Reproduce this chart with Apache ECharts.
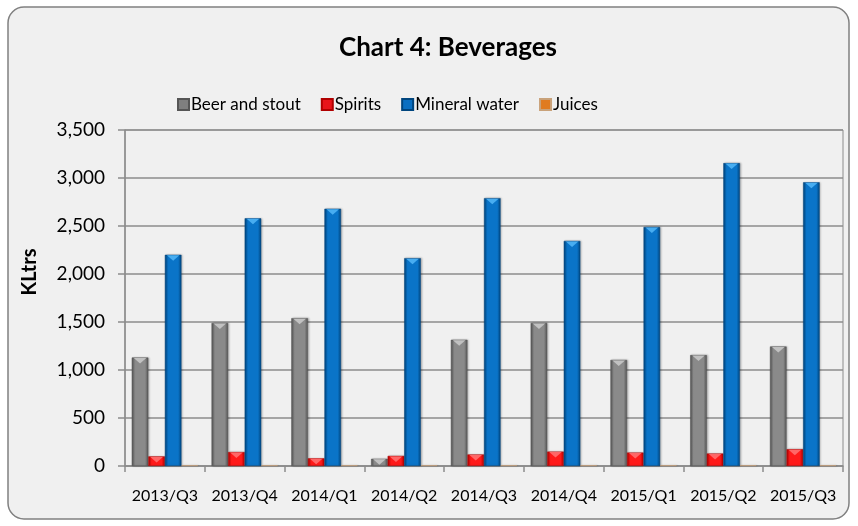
<!DOCTYPE html>
<html>
<head>
<meta charset="utf-8">
<script src="https://cdn.jsdelivr.net/npm/echarts@6/dist/echarts.min.js"></script>
<style>
  html, body { margin: 0; padding: 0; background: #ffffff; }
  #main { width: 858px; height: 526px; }
</style>
</head>
<body>
<div id="main"></div>
<script>
"use strict";
// quarters on the x axis
const quarters = ['2013/Q3', '2013/Q4', '2014/Q1', '2014/Q2', '2014/Q3', '2014/Q4', '2015/Q1', '2015/Q2', '2015/Q3'];
// KLtrs per quarter
const beerStout = [1130, 1490, 1540, 75, 1315, 1490, 1105, 1155, 1245];
const spirits = [100, 145, 80, 105, 120, 150, 140, 130, 175];
const mineralWater = [2200, 2580, 2680, 2165, 2790, 2345, 2490, 3155, 2955];
const juices = [8, 8, 8, 8, 8, 8, 8, 8, 8];
const yTicks = [0, 500, 1000, 1500, 2000, 2500, 3000, 3500];

const font = 'Lato, "Open Sans", sans-serif';
const catGap = 0.17;   // same as barCategoryGap below
const nBars = 4;

// bevelled look: darker edges, lighter middle
function bevel(edge, mid) {
  return new echarts.graphic.LinearGradient(0, 0, 1, 0, [
    { offset: 0, color: edge },
    { offset: 0.2, color: mid },
    { offset: 0.8, color: mid },
    { offset: 1, color: edge }
  ]);
}

function barSeries(name, data, edge, mid) {
  return {
    name: name,
    type: 'bar',
    data: data,
    barGap: '0%',
    barCategoryGap: (catGap * 100) + '%',
    itemStyle: {
      color: bevel(edge, mid),
      borderColor: edge,
      borderWidth: 0.5,
      shadowColor: 'rgba(0,0,0,0.25)',
      shadowBlur: 2,
      shadowOffsetX: 1
    }
  };
}

// light triangle on top of each bar, like the excel bevel
function capSeries(data, idx, color) {
  return {
    type: 'custom',
    silent: true,
    z: 3,
    data: data.map(function (v, i) { return [i, v]; }),
    renderItem: function (params, api) {
      const top = api.coord([api.value(0), api.value(1)]);
      const band = api.size([1, 0])[0];
      const bw = band * (1 - catGap) / nBars;
      const x0 = top[0] - band * (1 - catGap) / 2 + idx * bw;
      const h = Math.min(6, Math.max(0, api.coord([0, 0])[1] - top[1]));
      return {
        type: 'polygon',
        shape: { points: [[x0 + 2, top[1] + 0.5], [x0 + bw - 2, top[1] + 0.5], [x0 + bw / 2, top[1] + h]] },
        style: { fill: color, opacity: 0.9 }
      };
    }
  };
}

const chart = echarts.init(document.getElementById('main'), null, { renderer: 'canvas' });

const option = {
  animation: false,
  color: ['#7f7f7f', '#e8141a', '#0a6fc2', '#e07b20'],
  graphic: [
    {
      type: 'rect',
      z: -10,
      shape: { x: 8, y: 7, width: 841, height: 512, r: 16 },
      style: { fill: '#f0f0f0', stroke: '#808080', lineWidth: 1.5 }
    },
    {
      type: 'text',
      z: 10,
      x: 30,
      y: 272,
      rotation: Math.PI / 2,
      style: {
        text: 'KLtrs',
        fill: '#000',
        font: 'bold 20px ' + font,
        align: 'center',
        verticalAlign: 'middle'
      }
    }
  ],
  title: {
    text: 'Chart 4: Beverages',
    left: 443,
    textAlign: 'center',
    top: 30,
    textStyle: { fontFamily: font, fontSize: 26, fontWeight: 'bold', color: '#000' }
  },
  legend: {
    left: 172,
    top: 91,
    itemWidth: 11,
    itemHeight: 11,
    itemGap: 20,
    icon: 'rect',
    textStyle: { fontFamily: font, fontSize: 17, color: '#000', padding: [0, 0, 0, -3] },
    data: [
      { name: 'Beer and stout', itemStyle: { color: '#7f7f7f' } },
      { name: 'Spirits', itemStyle: { color: '#e8141a' } },
      { name: 'Mineral water', itemStyle: { color: '#0a6fc2' } },
      { name: 'Juices', itemStyle: { color: '#e07b20' } }
    ]
  },
  grid: {
    left: 125,
    right: 15,
    top: 130,
    bottom: 60,
    show: true,
    borderColor: '#8c8c8c',
    borderWidth: 1
  },
  xAxis: {
    type: 'category',
    data: quarters,
    axisLine: { lineStyle: { color: '#8c8c8c', width: 1.5 } },
    axisTick: { show: true, length: 6, alignWithLabel: false, lineStyle: { color: '#8c8c8c', width: 1.5 } },
    axisLabel: { fontFamily: font, fontSize: 16, color: '#000', margin: 22, interval: 0 }
  },
  yAxis: {
    type: 'value',
    min: yTicks[0],
    max: yTicks[yTicks.length - 1],
    interval: 500,
    axisLine: { show: true, lineStyle: { color: '#8c8c8c', width: 1.5 } },
    axisTick: { show: true, length: 7, lineStyle: { color: '#8c8c8c', width: 1.5 } },
    splitLine: { lineStyle: { color: '#8c8c8c', width: 1.5 } },
    axisLabel: {
      fontFamily: font,
      fontSize: 19,
      color: '#000',
      margin: 20,
      formatter: function (v) { return v.toLocaleString('en-US'); }
    }
  },
  series: [
    barSeries('Beer and stout', beerStout, '#555555', '#8a8a8a'),
    barSeries('Spirits', spirits, '#b00000', '#ff1a1a'),
    barSeries('Mineral water', mineralWater, '#00457e', '#0a74c8'),
    barSeries('Juices', juices, '#c9a27a', '#e8c7a0'),
    capSeries(beerStout, 0, '#c8c8c8'),
    capSeries(spirits, 1, '#ff7070'),
    capSeries(mineralWater, 2, '#4fb4f5')
  ]
};

chart.setOption(option);
</script>
</body>
</html>
